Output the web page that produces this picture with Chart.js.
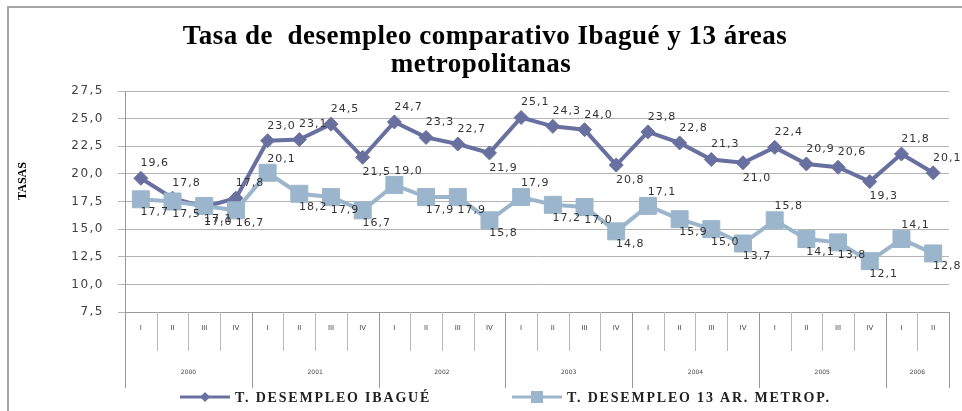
<!DOCTYPE html>
<html>
<head>
<meta charset="utf-8">
<script src="https://cdn.jsdelivr.net/npm/chart.js@4.4.1/dist/chart.umd.min.js"></script>
<style>
    html, body { margin: 0; padding: 0; background: #fff; }
    #wrap { width: 962px; height: 411px; position: relative; }
</style>
</head>
<body>
<div id="wrap"><canvas id="myChart"></canvas></div>
<script>
// Trimestres y años (eje X en dos niveles)
const quarterLabels = ['I','II','III','IV','I','II','III','IV','I','II','III','IV','I','II','III','IV',
                       'I','II','III','IV','I','II','III','IV','I','II'];
const yearLabels = ['2000','2001','2002','2003','2004','2005','2006'];
const quartersPerYear = [4, 4, 4, 4, 4, 4, 2];

// Tasas de desempleo (%)
const ibagueValues = [19.6, 17.8, 17.0, 17.8, 23.0, 23.1, 24.5, 21.5, 24.7, 23.3, 22.7, 21.9, 25.1,
                      24.3, 24.0, 20.8, 23.8, 22.8, 21.3, 21.0, 22.4, 20.9, 20.6, 19.3, 21.8, 20.1];
const metroValues  = [17.7, 17.5, 17.1, 16.7, 20.1, 18.2, 17.9, 16.7, 19.0, 17.9, 17.9, 15.8, 17.9,
                      17.2, 17.0, 14.8, 17.1, 15.9, 15.0, 13.7, 15.8, 14.1, 13.8, 12.1, 14.1, 12.8];

const seriesNames = ['T. DESEMPLEO IBAGUÉ', 'T. DESEMPLEO 13 AR. METROP.'];
const titleLines = ['Tasa de  desempleo comparativo Ibagué y 13 áreas', 'metropolitanas'];
const yTitle = 'TASAS';

const colorIbague = '#6870A0';
const colorMetro = '#9BB6CC';

function fmt(v) { return v.toFixed(1).replace('.', ','); }

// Plugin voor alle extra tekeningen (titel, as-groepen, legenda, labels)
const decorPlugin = {
    id: 'decor',
    beforeDraw(chart) {
        chart.ctx.letterSpacing = '1.5px';
    },
    afterDatasetsDraw(chart) {
        const ctx = chart.ctx;
        ctx.save();
        ctx.font = '11px "DejaVu Sans"';
        ctx.letterSpacing = '1px';
        ctx.fillStyle = '#333';
        ctx.textAlign = 'center';
        ctx.textBaseline = 'middle';

        chart.getDatasetMeta(1).data.forEach((pt, i) => {
            const v = ibagueValues[i], prev = ibagueValues[i - 1], next = ibagueValues[i + 1];
            const below = prev !== undefined && next !== undefined && v < prev && v < next;
            ctx.fillText(fmt(v), pt.x + 14, pt.y + (below ? 15 : -15));
        });
        chart.getDatasetMeta(0).data.forEach((pt, i) => {
            const v = metroValues[i], prev = metroValues[i - 1], next = metroValues[i + 1];
            const above = prev !== undefined && v > prev && (next === undefined || v >= next);
            ctx.fillText(fmt(v), pt.x + 14, pt.y + (above ? -14 : 13));
        });
        ctx.restore();
    },
    afterDraw(chart) {
        const ctx = chart.ctx;
        const area = chart.chartArea;
        const xs = chart.scales.x;
        ctx.save();
        ctx.letterSpacing = '0px';

        // Marco exterior
        ctx.strokeStyle = '#a6a6a6';
        ctx.lineWidth = 2;
        ctx.beginPath();
        ctx.moveTo(8, 411);
        ctx.lineTo(8, 7);
        ctx.lineTo(962, 7);
        ctx.stroke();

        // Título
        ctx.fillStyle = '#000';
        ctx.font = 'bold 27px "Liberation Serif"';
        ctx.letterSpacing = '0.5px';
        ctx.textAlign = 'center';
        ctx.textBaseline = 'middle';
        ctx.fillText(titleLines[0], 485, 37);
        ctx.fillText(titleLines[1], 481, 65);
        ctx.letterSpacing = '0px';

        // Título eje Y
        ctx.save();
        ctx.translate(23, 181);
        ctx.rotate(-Math.PI / 2);
        ctx.font = 'bold 12px "Liberation Serif"';
        ctx.fillText(yTitle, 0, 0);
        ctx.restore();

        // Eje X de dos niveles
        const step = xs.getPixelForValue(1) - xs.getPixelForValue(0);
        const bottom = area.bottom;
        const yearEdges = [0];
        quartersPerYear.forEach(n => yearEdges.push(yearEdges[yearEdges.length - 1] + n));

        ctx.lineWidth = 1;
        for (let i = 0; i <= quarterLabels.length; i++) {
            const x = Math.round(area.left + i * step) + 0.5;
            const isYear = yearEdges.includes(i);
            ctx.strokeStyle = isYear ? '#999' : '#b8b8b8';
            ctx.beginPath();
            ctx.moveTo(x, bottom);
            ctx.lineTo(x, bottom + (isYear ? 76 : 39));
            ctx.stroke();
        }

        ctx.fillStyle = '#444';
        ctx.font = '7px "DejaVu Sans"';
        quarterLabels.forEach((q, i) => {
            ctx.fillText(q, xs.getPixelForValue(i), bottom + 16);
        });
        ctx.font = '6px "DejaVu Sans"';
        yearLabels.forEach((yr, k) => {
            const x0 = area.left + yearEdges[k] * step;
            const x1 = area.left + yearEdges[k + 1] * step;
            ctx.fillText(yr, (x0 + x1) / 2, bottom + 60);
        });

        // Leyenda
        const legendY = 397;
        const items = [
            { x: 180, color: colorIbague, style: 'diamond', text: seriesNames[0] },
            { x: 512, color: colorMetro, style: 'square', text: seriesNames[1] }
        ];
        items.forEach(it => {
            ctx.strokeStyle = it.color;
            ctx.fillStyle = it.color;
            ctx.lineWidth = 3;
            ctx.beginPath();
            ctx.moveTo(it.x, legendY);
            ctx.lineTo(it.x + 50, legendY);
            ctx.stroke();
            const cx = it.x + 25;
            ctx.beginPath();
            if (it.style === 'diamond') {
                ctx.moveTo(cx, legendY - 5);
                ctx.lineTo(cx + 5, legendY);
                ctx.lineTo(cx, legendY + 5);
                ctx.lineTo(cx - 5, legendY);
            } else {
                ctx.rect(cx - 6, legendY - 6, 12, 12);
            }
            ctx.fill();

            ctx.fillStyle = '#222';
            ctx.font = 'bold 14px "Liberation Serif"';
            ctx.letterSpacing = '1.8px';
            ctx.textAlign = 'left';
            ctx.fillText(it.text, it.x + 55, legendY + 1);
            ctx.letterSpacing = '0px';
            ctx.textAlign = 'center';
        });

        ctx.restore();
    }
};

const ChartCanvas = document.getElementById('myChart');
const myChart = new Chart(ChartCanvas, {
    type: 'line',
    data: {
        labels: quarterLabels,
        datasets: [{
            label: seriesNames[1],
            data: metroValues,
            borderColor: colorMetro,
            backgroundColor: colorMetro,
            borderWidth: 4,
            pointStyle: 'rect',
            pointRadius: 12,
            pointBorderWidth: 1,
            order: 0
        }, {
            label: seriesNames[0],
            data: ibagueValues,
            borderColor: colorIbague,
            backgroundColor: colorIbague,
            borderWidth: 4,
            pointStyle: 'rectRot',
            pointRadius: 7,
            pointBorderWidth: 1,
            order: 1
        }]
    },
    options: {
        responsive: true,
        maintainAspectRatio: false,
        animation: false,
        devicePixelRatio: 1,
        layout: {
            padding: { top: 91, right: 5, bottom: 0, left: 0 }
        },
        plugins: {
            legend: { display: false },
            title: { display: false },
            tooltip: { enabled: false }
        },
        scales: {
            x: {
                offset: true,
                grid: { display: false },
                border: { color: '#999' },
                ticks: { display: false },
                afterFit(scale) { scale.height = 99; }
            },
            y: {
                min: 7.5,
                max: 27.5,
                ticks: {
                    stepSize: 2.5,
                    padding: 14,
                    color: '#404040',
                    font: { family: 'DejaVu Sans', size: 12 },
                    callback: v => fmt(v)
                },
                grid: { color: '#b4b4b4', tickLength: 7 },
                border: { color: '#999' },
                afterFit(scale) { scale.width = 125; }
            }
        }
    },
    plugins: [decorPlugin]
});
</script>
</body>
</html>
